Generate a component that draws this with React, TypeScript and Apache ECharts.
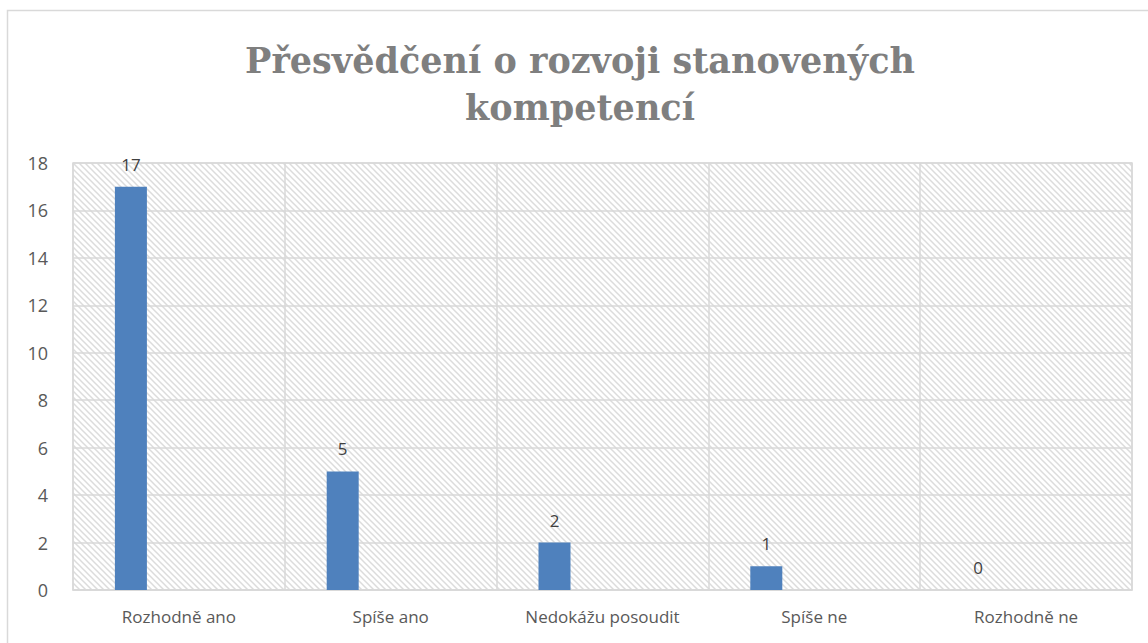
import React, { useEffect, useRef } from "react";
import * as echarts from "echarts";

const categories = ["Rozhodně ano", "Spíše ano", "Nedokážu posoudit", "Spíše ne", "Rozhodně ne"];
const values = [17, 5, 2, 1, 0];
const emptyValues = ["-", "-", "-", "-", "-"];
const yMin = 0;
const yMax = 18;
const yStep = 2;
const titleText = "Přesvědčení o rozvoji stanovených\nkompetencí";

function makeHatch(): HTMLCanvasElement {
  const c = document.createElement("canvas");
  const s = 6;
  c.width = s;
  c.height = s;
  const ctx = c.getContext("2d")!;
  ctx.fillStyle = "#ffffff";
  ctx.fillRect(0, 0, s, s);
  ctx.strokeStyle = "#dcdcdc";
  ctx.lineWidth = 1.5;
  for (let k = -1; k <= 1; k++) {
    ctx.beginPath();
    ctx.moveTo(k * s - 1, -1);
    ctx.lineTo(k * s + s + 1, s + 1);
    ctx.stroke();
  }
  return c;
}

export default function App() {
  const ref = useRef<HTMLDivElement>(null);
  useEffect(() => {
    document.body.style.margin = "0";
    const chart = echarts.init(ref.current!, null, { renderer: "svg" });
    const hatch = makeHatch();
    chart.setOption({
      animation: false,
      backgroundColor: "#ffffff",
      title: {
        text: titleText,
        left: 575,
        textAlign: "center",
        top: 32,
        textStyle: {
          fontFamily: "DejaVu Serif",
          fontWeight: "bold",
          fontSize: 35,
          lineHeight: 47,
          color: "#7f7f7f",
        },
      },
      graphic: [
        {
          type: "rect",
          shape: { x: 7.5, y: 10.5, width: 1300, height: 800 },
          style: { fill: "none", stroke: "#d9d9d9", lineWidth: 1.5 },
          silent: true,
          z: 0,
        },
      ],
      grid: {
        left: 73,
        right: 16,
        top: 163,
        bottom: 53,
        show: true,
        backgroundColor: { image: hatch, repeat: "repeat" },
        borderColor: "#d9d9d9",
        borderWidth: 1.5,
      },
      xAxis: {
        type: "category",
        data: categories,
        axisLine: { show: true, lineStyle: { color: "#d9d9d9", width: 1.5 } },
        axisTick: { show: false },
        splitLine: { show: true, lineStyle: { color: "#d9d9d9", width: 1.5 } },
        axisLabel: {
          margin: 18,
          fontFamily: "Open Sans",
          fontSize: 17,
          color: "#595959",
        },
      },
      yAxis: {
        type: "value",
        min: yMin,
        max: yMax,
        interval: yStep,
        axisLine: { show: false },
        axisTick: { show: false },
        splitLine: { show: true, lineStyle: { color: "#d9d9d9", width: 1.5 } },
        axisLabel: {
          margin: 25,
          fontFamily: "Open Sans",
          fontSize: 18,
          color: "#595959",
        },
      },
      series: [
        {
          type: "bar",
          data: values,
          barWidth: 32,
          barGap: "50%",
          itemStyle: { color: "#4f81bd" },
          label: {
            show: true,
            position: "top",
            distance: 14,
            fontFamily: "Open Sans",
            fontSize: 17,
            color: "#404040",
          },
        },
        { type: "bar", data: emptyValues, barWidth: 32, barGap: "50%" },
        { type: "bar", data: emptyValues, barWidth: 32, barGap: "50%" },
      ],
    });
    return () => chart.dispose();
  }, []);
  return <div ref={ref} style={{ width: 1148, height: 643 }} />;
}
